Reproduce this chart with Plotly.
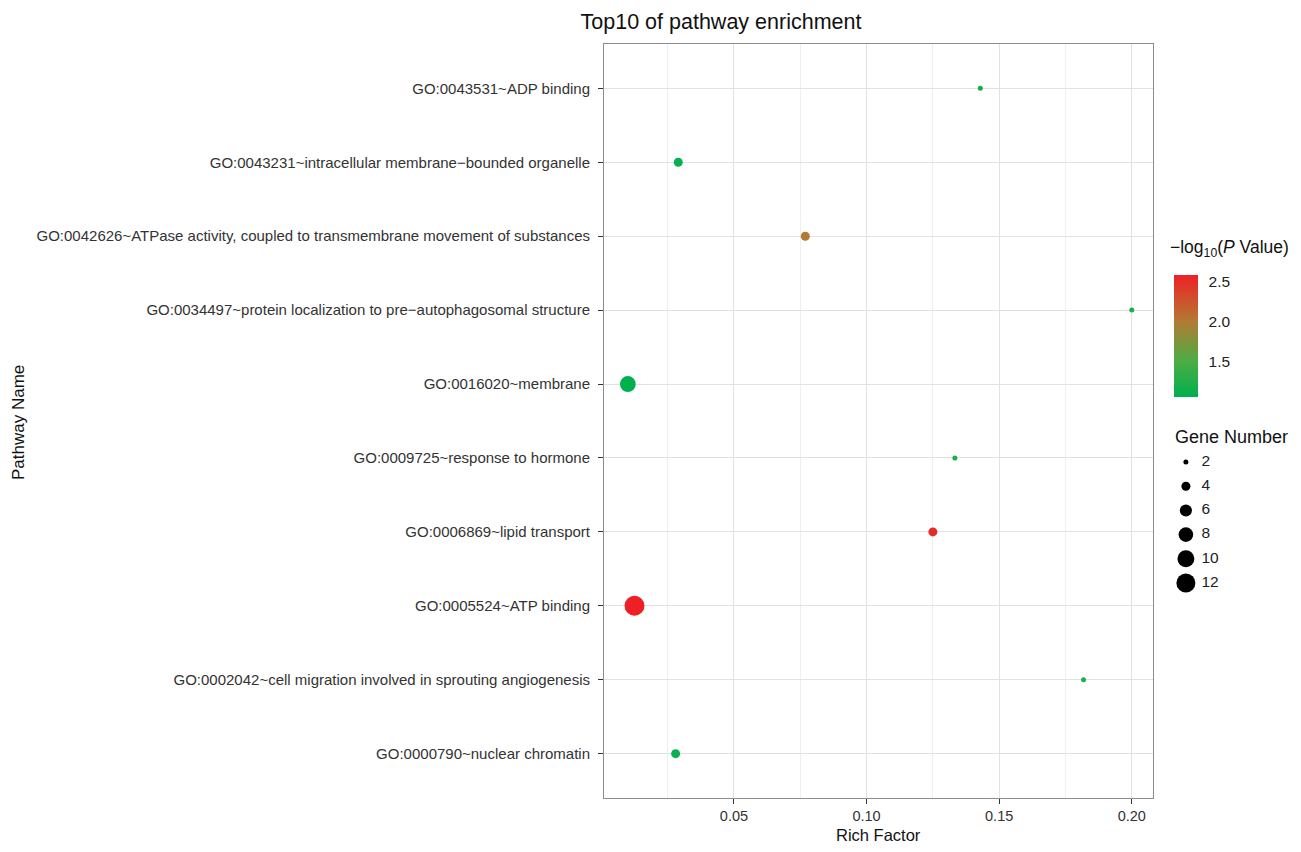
import plotly.graph_objects as go
import numpy as np

pathways = [
    "GO:0043531~ADP binding",
    "GO:0043231~intracellular membrane\u2212bounded organelle",
    "GO:0042626~ATPase activity, coupled to transmembrane movement of substances",
    "GO:0034497~protein localization to pre\u2212autophagosomal structure",
    "GO:0016020~membrane",
    "GO:0009725~response to hormone",
    "GO:0006869~lipid transport",
    "GO:0005524~ATP binding",
    "GO:0002042~cell migration involved in sprouting angiogenesis",
    "GO:0000790~nuclear chromatin",
]
rich_factor = [0.1429, 0.0290, 0.0769, 0.2000, 0.0100, 0.1333, 0.1250, 0.0125, 0.1818, 0.0280]
gene_number = [2, 4, 4, 2, 9, 2, 4, 13, 2, 4]
neg_log_p = [1.15, 1.10, 2.00, 1.20, 1.06, 1.18, 2.50, 2.58, 1.20, 1.12]

legend_genes = [2, 4, 6, 8, 10, 12]
cbar_ticks = [1.5, 2.0, 2.5]

FONT = "Arial, Liberation Sans, sans-serif"

def diam(n):
    return -4.66 + 6.83 * np.sqrt(np.array(n, dtype=float))

# page body has an 8px margin: figure pixel = screen pixel - 8
OFF = 8
W, H = 1285, 836
L = 604 - OFF
T = 44 - OFF
B = H - (798 - OFF)
R = 10
pw = W - L - R
ph = H - T - B
plot_right = 1153

def px_x(sx):
    return (sx - OFF - L) / pw

def px_y(sy):
    return (H - B - (sy - OFF)) / ph

colorscale = [[0.0, "#00B04F"], [0.3, "#4EAC45"], [0.62, "#B27A33"], [1.0, "#EE2026"]]

fig = go.Figure()
fig.add_trace(go.Scatter(
    x=rich_factor, y=pathways,
    mode="markers",
    marker=dict(
        size=diam(gene_number), sizemode="diameter",
        color=neg_log_p, colorscale=colorscale,
        cmin=min(neg_log_p), cmax=max(neg_log_p),
        line=dict(width=0), opacity=1,
        colorbar=dict(
            x=px_x(1174), xanchor="left", y=px_y(336), yanchor="middle",
            len=122, lenmode="pixels", thickness=24, thicknessmode="pixels",
            xpad=0, ypad=0, outlinewidth=0,
            tickvals=cbar_ticks, ticktext=["%.1f" % v for v in cbar_ticks],
            ticks="outside", ticklen=8, tickcolor="rgba(0,0,0,0)",
            tickfont=dict(family=FONT, size=15.5, color="#222"),
        ),
    ),
    showlegend=False, hoverinfo="x+y",
))

# size legend (Gene Number)
fig.add_trace(go.Scatter(
    x=[0.33] * len(legend_genes), y=list(range(len(legend_genes))),
    mode="markers", xaxis="x2", yaxis="y2", cliponaxis=False,
    marker=dict(size=diam(legend_genes), sizemode="diameter", color="#000000",
                opacity=1, line=dict(width=0)),
    showlegend=False, hoverinfo="skip",
))
fig.add_trace(go.Scatter(
    x=[0.85] * len(legend_genes), y=list(range(len(legend_genes))),
    mode="text", xaxis="x2", yaxis="y2", cliponaxis=False,
    text=[str(g) for g in legend_genes], textposition="middle right",
    textfont=dict(family=FONT, size=15.5, color="#222"),
    showlegend=False, hoverinfo="skip",
))

dom_right = (plot_right - OFF - L) / pw

fig.update_layout(
    width=W, height=H,
    margin=dict(l=L, r=R, t=T, b=B),
    paper_bgcolor="white", plot_bgcolor="white",
    font=dict(family=FONT, color="#222"),
    title=dict(text="Top10 of pathway enrichment", x=px_x(721), xref="paper",
               xanchor="center", y=1 - (21 - OFF) / H, yanchor="middle",
               font=dict(family=FONT, size=21.5, color="#111")),
    xaxis=dict(
        domain=[0, dom_right], range=[0.001, 0.208],
        tickvals=[0.05, 0.10, 0.15, 0.20], ticktext=["0.05", "0.10", "0.15", "0.20"],
        showgrid=True, gridcolor="#E2E2E2", gridwidth=1.3,
        minor=dict(tickvals=[0.025, 0.075, 0.125, 0.175], showgrid=True,
                   gridcolor="#EFEFEF", gridwidth=1, ticks=""),
        showline=True, linecolor="#8C8C8C", linewidth=1, mirror=True,
        ticks="outside", ticklen=5, tickcolor="#333", tickwidth=1,
        tickfont=dict(family=FONT, size=14.5, color="#333"),
        zeroline=False,
    ),
    yaxis=dict(
        type="category", categoryorder="array", categoryarray=pathways[::-1],
        range=[-0.6, 9.6],
        showgrid=True, gridcolor="#E2E2E2", gridwidth=1.3,
        showline=True, linecolor="#8C8C8C", linewidth=1, mirror=True,
        ticks="outside", ticklen=5, tickcolor="#333", tickwidth=1,
        ticklabelstandoff=5,
        tickfont=dict(family=FONT, size=15, color="#333"),
        zeroline=False,
    ),
    xaxis2=dict(domain=[px_x(1176), px_x(1206)], range=[0, 1], visible=False,
                anchor="y2", fixedrange=True),
    yaxis2=dict(domain=[px_y(595), px_y(450)], range=[5.5, -0.5], visible=False,
                anchor="x2", fixedrange=True),
    annotations=[
        dict(text="Pathway Name", xref="paper", yref="paper", x=px_x(19), y=px_y(423),
             textangle=-90, showarrow=False, xanchor="center", yanchor="middle",
             font=dict(family=FONT, size=17, color="#111")),
        dict(text="Rich Factor", xref="paper", yref="paper", x=px_x(878), y=px_y(835),
             showarrow=False, xanchor="center", yanchor="middle",
             font=dict(family=FONT, size=16.5, color="#111")),
        dict(text="\u2212log<sub>10</sub>(<i>P</i> Value)", xref="paper", yref="paper",
             x=px_x(1168), y=px_y(248), showarrow=False, xanchor="left", yanchor="middle",
             font=dict(family=FONT, size=17.5, color="#111")),
        dict(text="Gene Number", xref="paper", yref="paper",
             x=px_x(1173), y=px_y(437), showarrow=False, xanchor="left", yanchor="middle",
             font=dict(family=FONT, size=18, color="#111")),
    ],
)

fig.write_html("out.html")
